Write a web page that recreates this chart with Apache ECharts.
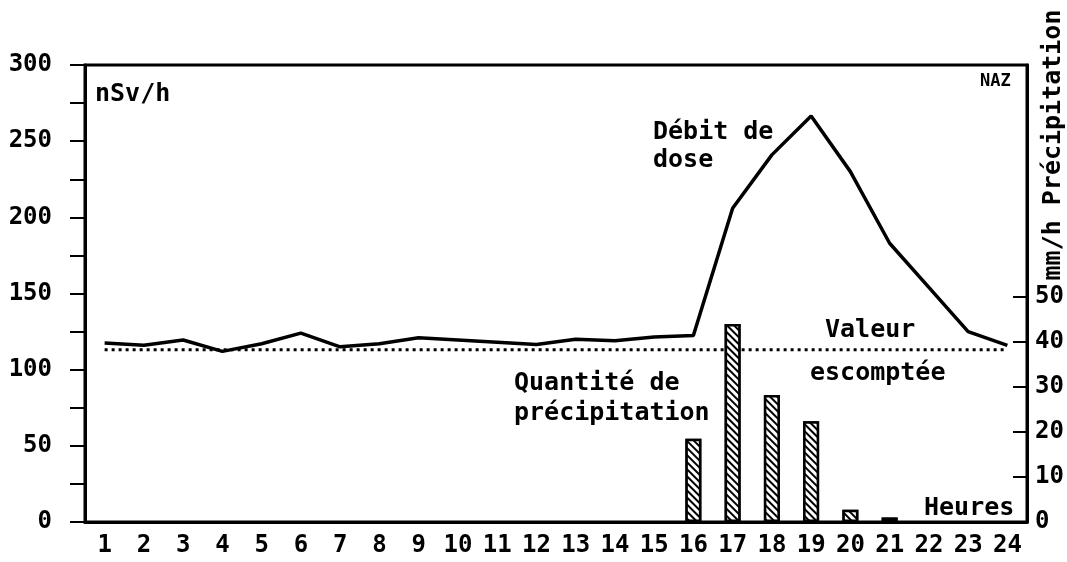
<!DOCTYPE html>
<html>
<head>
<meta charset="utf-8">
<script src="https://cdn.jsdelivr.net/npm/echarts@6/dist/echarts.min.js"></script>
<style>
  html, body { margin: 0; padding: 0; background: #fff; }
  #chart { width: 1067px; height: 562px; }
</style>
</head>
<body>
<div id="chart"></div>
<script>
// hours of the day
const hours = ['1', '2', '3', '4', '5', '6', '7', '8', '9', '10', '11', '12',
  '13', '14', '15', '16', '17', '18', '19', '20', '21', '22', '23', '24'];
// dose rate, nSv/h (left axis)
const doseRate = [117.5, 116, 119.5, 112, 117, 124, 115, 117, 121, 119.5, 118, 116.5,
  120, 119, 121.5, 122.5, 206, 241, 266.5, 230, 183, 154, 125, 116];
// precipitation, mm/h (right axis)
const rain = ['-', '-', '-', '-', '-', '-', '-', '-', '-', '-', '-', '-',
  '-', '-', '-', 18.5, 44, 28.2, 22.4, 2.7, 1, '-', '-', '-'];
// expected value, nSv/h
const expected = 113;
const leftTicks = [0, 50, 100, 150, 200, 250, 300];
const rightTicks = [0, 10, 20, 30, 40, 50];

const FONT = 'DejaVu Sans Mono';
const txt = (text, x, y, size) => ({
  type: 'text', left: x, top: y,
  style: { text: text, fill: '#000', font: 'bold ' + (size || 25) + 'px "' + FONT + '"' }
});

const myChart = echarts.init(document.getElementById('chart'));
myChart.setOption({
  animation: false,
  backgroundColor: '#fff',
  textStyle: { fontFamily: FONT, fontWeight: 'bold', color: '#000' },
  grid: {
    left: 85, right: 40, top: 65, bottom: 40,
    show: true, borderColor: '#000', borderWidth: 3
  },
  xAxis: {
    type: 'category',
    data: hours,
    boundaryGap: true,
    axisLine: { lineStyle: { color: '#000', width: 3 } },
    axisTick: { show: false },
    axisLabel: { color: '#000', fontSize: 24, fontWeight: 'bold', fontFamily: FONT, margin: 12 }
  },
  yAxis: [
    {
      type: 'value', min: 0, max: 300, interval: 25,
      axisLine: { show: true, lineStyle: { color: '#000', width: 3 } },
      axisTick: { show: true, length: 15, lineStyle: { color: '#000', width: 2 } },
      axisLabel: {
        color: '#000', fontSize: 24, fontWeight: 'bold', fontFamily: FONT, margin: 33,
        formatter: v => leftTicks.includes(v) ? String(v) : ''
      },
      splitLine: { show: false }
    },
    {
      type: 'value', min: 0, max: 101.5, position: 'right',
      axisLine: { show: true, lineStyle: { color: '#000', width: 3 } },
      axisTick: { show: true, inside: true, length: 14, customValues: [10, 20, 30, 40, 50],
        lineStyle: { color: '#000', width: 2 } },
      axisLabel: { color: '#000', fontSize: 24, fontWeight: 'bold', fontFamily: FONT, margin: 8,
        customValues: rightTicks },
      splitLine: { show: false }
    }
  ],
  series: [
    {
      name: 'Valeur escomptée',
      type: 'line',
      data: hours.map(() => expected),
      symbol: 'none',
      lineStyle: { color: '#000', width: 3, type: [3, 4] },
      z: 1
    },
    {
      name: 'Quantité de précipitation',
      type: 'bar',
      yAxisIndex: 1,
      data: rain,
      barWidth: 16,
      itemStyle: {
        color: '#fff',
        borderColor: '#000',
        borderWidth: 2.5,
        decal: {
          symbol: 'rect', symbolSize: 1,
          dashArrayX: [1, 0], dashArrayY: [2, 3],
          rotation: Math.PI / 4,
          color: '#000', backgroundColor: '#fff'
        }
      },
      z: 2
    },
    {
      name: 'Débit de dose',
      type: 'line',
      data: doseRate,
      symbol: 'none',
      lineStyle: { color: '#000', width: 3.5 },
      z: 3
    }
  ],
  graphic: [
    txt('nSv/h', 95, 82),
    txt('NAZ', 980, 73, 17),
    txt('Débit de', 653, 120),
    txt('dose', 653, 148),
    txt('Valeur', 825, 318),
    txt('escomptée', 810, 361),
    txt('Quantité de', 514, 371),
    txt('précipitation', 514, 401),
    txt('Heures', 924, 496),
    {
      type: 'text', x: 1053, y: 145, rotation: Math.PI / 2,
      style: { text: 'mm/h Précipitation', fill: '#000', font: 'bold 25px "' + FONT + '"',
        align: 'center', verticalAlign: 'middle' }
    }
  ]
});
window.addEventListener('resize', () => myChart.resize());
</script>
</body>
</html>
